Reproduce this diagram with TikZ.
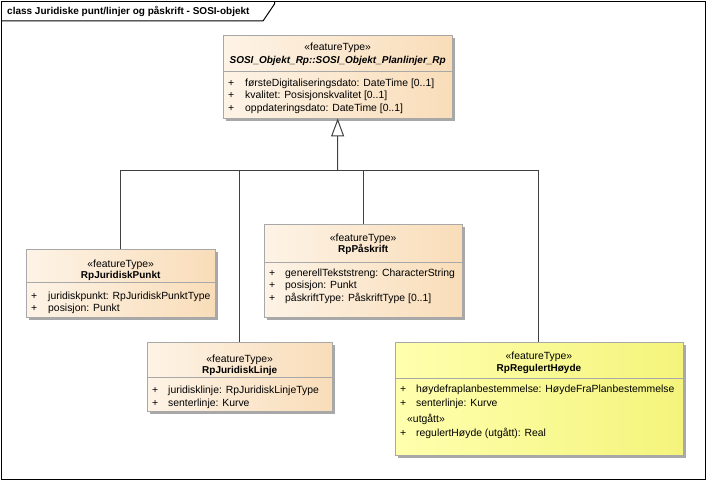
\documentclass[tikz,border=0pt]{standalone}
\usepackage{fontspec}
\setmainfont{Liberation Sans}
\usetikzlibrary{arrows.meta,shadows}

\definecolor{beigeL}{HTML}{FDF3E6}
\definecolor{beigeR}{HTML}{F9DDB9}
\definecolor{yellowL}{HTML}{FFFFAE}
\definecolor{yellowR}{HTML}{F4F47C}
\definecolor{boxgray}{HTML}{A8A8A8}
\definecolor{linegray}{HTML}{404040}

\tikzset{
  classbox/.style={draw=boxgray, anchor=north west, inner sep=0pt,
    left color=beigeL, right color=beigeR,
    drop shadow={shadow xshift=3pt, shadow yshift=-3pt, fill=boxgray, opacity=1}},
  reqbox/.style={classbox, left color=yellowL, right color=yellowR},
  stereo/.style={inner sep=0pt, anchor=base},
  cname/.style={inner sep=0pt, anchor=base, font=\bfseries},
  attr/.style={inner sep=0pt, anchor=base west},
  divider/.style={draw=boxgray, line width=1pt},
  conn/.style={draw=linegray, line width=1pt}
}

\begin{document}
\begin{tikzpicture}[x=1pt, y=-1pt, font=\fontsize{10.4pt}{12pt}\selectfont]
    \useasboundingbox (0,0) rectangle (708,481);

    % diagram frame
    \draw[line width=1pt] (1.5,1.5) rectangle (705.5,479.5);
    \draw[line width=1pt] (1.5,21) -- (263,21) -- (274.5,4) -- (274.5,1.5);
    \node[attr, font=\bfseries] (title) at (7,14.5) {class Juridiske punt/linjer og påskrift - SOSI-objekt};

    % base class
    \node[classbox, minimum width=229, minimum height=83] (top) at (223,35) {};
    \node[stereo] (topst) at (top.north |- 0,51) {«featureType»};
    \node[cname, font=\bfseries\itshape] (topnm) at (top.north |- 0,64) {SOSI\_Objekt\_Rp::SOSI\_Objekt\_Planlinjer\_Rp};
    \draw[divider] (223,72) -- (452,72);
    \node[attr] (topp1) at (228,86.5) {+};
    \node[attr] (topa1) at (245,86.5) {førsteDigitaliseringsdato: DateTime [0..1]};
    \node[attr] (topp2) at (228,99) {+};
    \node[attr] (topa2) at (245,99) {kvalitet: Posisjonskvalitet [0..1]};
    \node[attr] (topp3) at (228,112) {+};
    \node[attr] (topa3) at (245,112) {oppdateringsdato: DateTime [0..1]};

    % RpJuridiskPunkt
    \node[classbox, minimum width=189, minimum height=68] (punkt) at (26,249) {};
    \node[stereo] (punktst) at (punkt.north |- 0,267) {«featureType»};
    \node[cname] (punktnm) at (punkt.north |- 0,278) {RpJuridiskPunkt};
    \draw[divider] (26,282.5) -- (215,282.5);
    \node[attr] (punktp1) at (31,299) {+};
    \node[attr] (punkta1) at (48,299) {juridiskpunkt: RpJuridiskPunktType};
    \node[attr] (punktp2) at (31,311.5) {+};
    \node[attr] (punkta2) at (48,311.5) {posisjon: Punkt};

    % RpPåskrift
    \node[classbox, minimum width=198, minimum height=93] (paaskrift) at (264,224) {};
    \node[stereo] (paaskriftst) at (paaskrift.north |- 0,241) {«featureType»};
    \node[cname] (paaskriftnm) at (paaskrift.north |- 0,252) {RpPåskrift};
    \draw[divider] (264,262) -- (462,262);
    \node[attr] (paaskriftp1) at (269,276) {+};
    \node[attr] (paaskrifta1) at (285,276) {generellTekststreng: CharacterString};
    \node[attr] (paaskriftp2) at (269,288.5) {+};
    \node[attr] (paaskrifta2) at (285,288.5) {posisjon: Punkt};
    \node[attr] (paaskriftp3) at (269,301.5) {+};
    \node[attr] (paaskrifta3) at (285,301.5) {påskriftType: PåskriftType [0..1]};

    % RpJuridiskLinje
    \node[classbox, minimum width=185, minimum height=69] (linje) at (147,342) {};
    \node[stereo] (linjest) at (linje.north |- 0,362) {«featureType»};
    \node[cname] (linjenm) at (linje.north |- 0,373) {RpJuridiskLinje};
    \draw[divider] (147,377.5) -- (332,377.5);
    \node[attr] (linjep1) at (152,393) {+};
    \node[attr] (linjea1) at (168,393) {juridisklinje: RpJuridiskLinjeType};
    \node[attr] (linjep2) at (152,406.5) {+};
    \node[attr] (linjea2) at (168,406.5) {senterlinje: Kurve};

    % RpRegulertHøyde
    \node[reqbox, minimum width=287.5, minimum height=113] (hoyde) at (395,342) {};
    \node[stereo] (hoydest) at (hoyde.north |- 0,359) {«featureType»};
    \node[cname] (hoydenm) at (hoyde.north |- 0,371) {RpRegulertHøyde};
    \draw[divider] (395,378) -- (682.5,378);
    \node[attr] (hoydep1) at (400,392.5) {+};
    \node[attr] (hoydea1) at (416,392.5) {høydefraplanbestemmelse: HøydeFraPlanbestemmelse};
    \node[attr] (hoydep2) at (400,406) {+};
    \node[attr] (hoydea2) at (416,406) {senterlinje: Kurve};
    \node[attr] (hoydeutg) at (407,422.5) {«utgått»};
    \node[attr] (hoydep3) at (400,436.5) {+};
    \node[attr] (hoydea3) at (416,436.5) {regulertHøyde (utgått): Real};

    % generalisation
    \coordinate (bus) at (337.5,170);
    \draw[conn] (punkt.north) |- (bus);
    \draw[conn] (linje.north) |- (bus);
    \draw[conn] (paaskrift.north) |- (bus);
    \draw[conn] (hoyde.north) |- (bus);
    \draw[conn, -{Triangle[fill=white, length=18pt, width=13pt]}] (bus) -- (top.south);
\end{tikzpicture}
\end{document}
